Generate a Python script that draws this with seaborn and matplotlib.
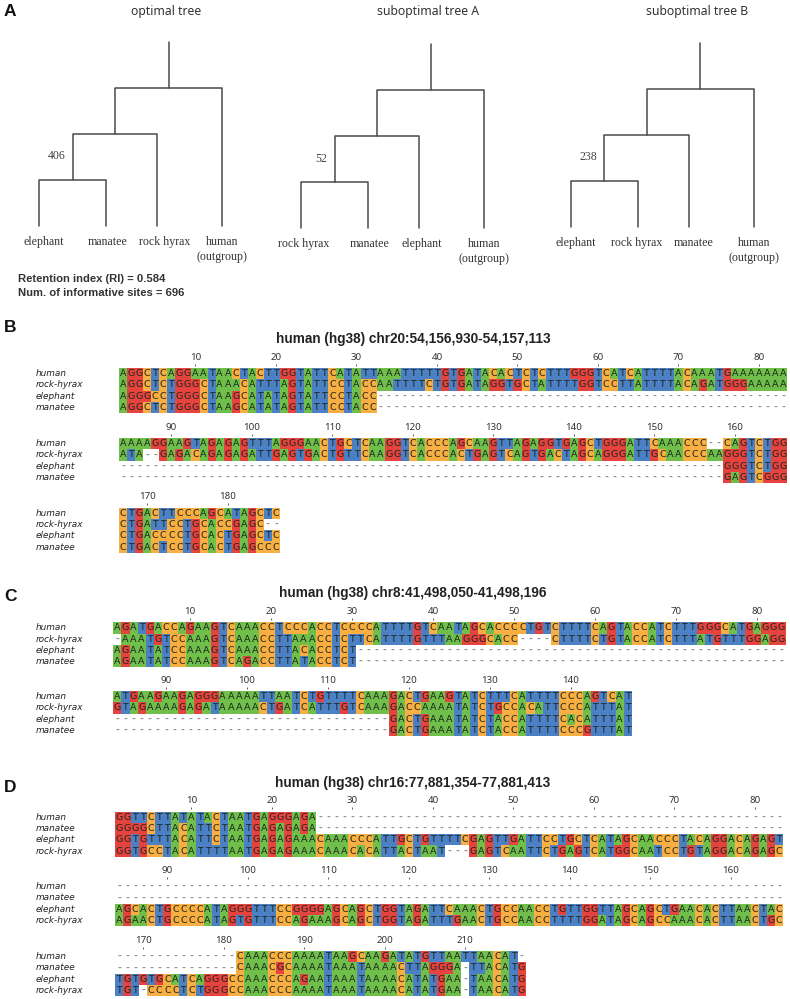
import matplotlib
matplotlib.use("Agg")
import matplotlib.pyplot as plt
from matplotlib.colors import ListedColormap
import numpy as np
import pandas as pd
import seaborn as sns

W, H = 790, 999

# tree data
tree_titles = ["optimal tree", "suboptimal tree A", "suboptimal tree B"]
tree_leaves = [
    ["elephant", "manatee", "rock hyrax", "human\n(outgroup)"],
    ["rock hyrax", "manatee", "elephant", "human\n(outgroup)"],
    ["elephant", "rock hyrax", "manatee", "human\n(outgroup)"],
]
tree_support = [406, 52, 238]
leaf_slots = [0, 1, 1.76, 2.72]
node_heights = [1, 2, 3, 4]
info_lines = ["Retention index (RI) = 0.584", "Num. of informative sites = 696"]

# alignments, one list per wrapped block
names_b = ["human", "rock-hyrax", "elephant", "manatee"]
names_c = ["human", "rock-hyrax", "elephant", "manatee"]
names_d = ["human", "manatee", "elephant", "rock-hyrax"]

title_b = "human (hg38) chr20:54,156,930-54,157,113"
title_c = "human (hg38) chr8:41,498,050-41,498,196"
title_d = "human (hg38) chr16:77,881,354-77,881,413"

b1 = [
    "AGGCTCAGGAATAACTACTTGGTATTCATATTAAATTTTTGTGATACACTCTCTTTGGGTCATCATTTTACAAATGAAAAAAA",
    "AGGCTCTGGGCTAAACATTTAGTATTCCTACCAATTTTCTGTGATAGGTGCTATTTTGGTCCTTATTTTACAGATGGGAAAAA",
    "AGGGCCTGGGCTAAGCATATAGTATTCCTACC" + "-" * 51,
    "AGGCTCTGGGCTAAGCATATAGTATTCCTACC" + "-" * 51,
]
b2 = [
    "AAAAGGAAGTAGAGAGTTTAGGGAACTGCTCAAGGTCACCCAGCAAGTTAGAGGTGAGCTGGGATTCAAACCC--CAGTCTGG",
    "ATA--GAGACAGAGAGATTGAGTGACTGTTCAAGGTCACCCACTGAGTCAGTGACTAGCAGGGATTGCAACCCAAGGGTCTGG",
    "-" * 75 + "GGGTCTGG",
    "-" * 75 + "GAGTCGGG",
]
b3 = [
    "CTGACTTCCCAGCATAGCTC",
    "CTGATTCCTGCACCGAGC--",
    "CTGACCCCTGCACTGAGCTC",
    "CTGACTCCTGCACTGAGCCC",
]
c1 = [
    "AGATGACCAGAAGTCAAACCTCCCACCTCCCCATTTTGTCAATAGCACCCCTGTCTTTTCAGTACCATCTTTGGGCATGAGGG",
    "-AAATGTCCAAAGTCAAACCTTAAACCTCTTCATTTTGTTTAAGGGCACC----CTTTTCTGTACCATCTTTATGTTTGGAGG",
    "AGAATATCCAAAGTCAAACCTTACACCTCT" + "-" * 53,
    "AGAATATCCAAAGTCAGACCTTATACCTCT" + "-" * 53,
]
c2 = [
    "ATGAAGAAGAGGGAAAAATTAATCTGTTTTCAAAGACTGAAGTATCTTTCATTTTCCCAGTCAT",
    "GTAGAAAAGAGATAAAAACTGATCATTTGTCAAAGACCAAAATATCTGCCACATTCCCATTTAT",
    "-" * 34 + "GACTGAAATATCTACCATTTTCACATTTAT",
    "-" * 34 + "GACTGAAATATCTACCATTTTCCCGTTTAT",
]
d1 = [
    "GGTTCTTATATACTAATGAGGGAGA" + "-" * 58,
    "GGGGCTTACATTCTAATGAGAGAGA" + "-" * 58,
    "GGTGTTTACATTCTAATGAGAGAAACAAACCCATTGCTGTTTTCGAGTTGATTCCTGCTCATAGCAACCCTACAGGACAGAGT",
    "GGTGCCTACATTTTAATGAGAGAAACAAACACATTACTAAT---GAGTCAATTCTGAGTCATGGCAATCCTGTAGGACAGAGC",
]
d2 = [
    "-" * 83,
    "-" * 83,
    "AGCACTGCCCCATAGGGTTTCCGGGGAGCAGCTGGTAGATTCAAACTGCCAACCTGTTGGTTAGCAGCTGAACACTTAACTAC",
    "AGAACTGCCCCATAGTGTTTCCAGAAAGCAGCTGGTAGATTTGAACTGCCAACCTTTTGGATAGCAGCCAAACACTTAACTGC",
]
d3 = [
    "-" * 15 + "CAAACCCAAAATAAGCAAGATATGTTAATTAACAT-",
    "-" * 15 + "CAAACGCAAAATAAATAAAACTTAGGGA-TTACATG",
    "TGTGTGCATCAGGGCCAAACCCAGAATAAATAAAACATATGAA-TAACATG",
    "TGT-CCCCTCTGGGCCAAACCCAAAATAAATAAAACATATGAA-TAACATG",
]

base_code = {"A": 0, "C": 1, "G": 2, "T": 3, "-": 4}
base_cmap = ListedColormap(["#70bf4b", "#f8ae40", "#e6433f", "#4c80c5", "#ffffff"])

sns.set_theme(style="white")
fig = plt.figure(figsize=(W / 100, H / 100), dpi=100)


def px_axes(x, y, w, h):
    return fig.add_axes([x / W, 1 - (y + h) / H, w / W, h / H])


def px_text(x, y, s, **kw):
    kw.setdefault("ha", "center")
    kw.setdefault("va", "center")
    fig.text(x / W, 1 - y / H, s, **kw)


def draw_tree(x0, top, bottom, leaves, slots, heights):
    # ladder tree: two first leaves join, then each next leaf joins the clade
    unit = 67.3
    ax = px_axes(x0, top, slots[-1] * unit, bottom - top)
    rows = []
    seg = 0
    nx, ny = slots[0], 0
    for i in range(1, len(leaves)):
        h = heights[i - 1]
        for px, py in [(nx, ny), (nx, h), (slots[i], h), (slots[i], 0)]:
            rows.append({"x": px, "y": py, "seg": seg})
        seg += 1
        nx, ny = (nx + slots[i]) / 2, h
    for py in [ny, heights[-1]]:
        rows.append({"x": nx, "y": py, "seg": seg})
    sns.lineplot(data=pd.DataFrame(rows), x="x", y="y", units="seg", estimator=None,
                 sort=False, color="#4a4a4a", linewidth=1.1, legend=False, ax=ax)
    ax.set_xlim(slots[0], slots[-1])
    ax.set_ylim(0, heights[-1])
    ax.axis("off")
    for line in ax.lines:
        line.set_clip_on(False)


def draw_block(x, y, cell, seqs, names, first):
    n = len(seqs[0])
    ax = px_axes(x, y, n * cell, 45)
    letters = np.array([list(s) for s in seqs])
    codes = np.vectorize(base_code.get)(letters)
    sns.heatmap(codes, annot=letters, fmt="", cmap=base_cmap, vmin=-0.5, vmax=4.5, cbar=False,
                xticklabels=False, yticklabels=names, ax=ax,
                annot_kws={"fontsize": 6.8, "color": "#1c261d", "family": "DejaVu Sans"})
    for t in ax.texts:
        if t.get_text() == "-":
            t.set_color("#8f8f8f")
            t.set_fontweight("bold")
    ax.spines["top"].set_position(("outward", 1.6))
    ax.xaxis.tick_top()
    pos = [i + 0.5 for i in range(n) if (first + i) % 10 == 0]
    ax.set_xticks(pos)
    ax.set_xticklabels([str(first + i) for i in range(n) if (first + i) % 10 == 0],
                       family="Noto Sans", fontsize=7, color="#333333")
    ax.tick_params(axis="x", top=True, bottom=False, length=1.8, width=0.6, color="#444444", pad=1.2)
    ax.set_yticks(np.arange(len(names)) + 0.5)
    ax.set_yticklabels(names, family="DejaVu Sans", style="italic", fontsize=6.4,
                       color="#222222", rotation=0, ha="left")
    ax.tick_params(axis="y", left=False, length=0, pad=(x - 35.5) * 0.72)
    return ax


# panel A
tree_x = [39, 301, 570.7]
tree_top = [42, 44, 42.7]
tree_bottom = [225.7, 227.7, 226.7]
title_x = [165.7, 428, 697]
label_x = [[43.5, 107.7, 165, 222], [304, 369.7, 421.7, 484.3], [575.3, 637, 694, 753.7]]
label_y = [242, 244, 243]
support_xy = [(56.7, 156), (321, 159), (588, 157.5)]

for i in range(3):
    px_text(title_x[i], 11, tree_titles[i], family="Noto Sans", fontsize=8.8, color="#333333")
    draw_tree(tree_x[i], tree_top[i], tree_bottom[i], tree_leaves[i], leaf_slots, node_heights)
    for lx, leaf in zip(label_x[i], tree_leaves[i]):
        for k, part in enumerate(leaf.split("\n")):
            px_text(lx, label_y[i] + k * 15, part, family="Liberation Serif", fontsize=8.6, color="#333333")
    px_text(support_xy[i][0], support_xy[i][1], str(tree_support[i]), family="Liberation Serif",
            fontsize=8.6, color="#444444")

for line, ly in zip(info_lines, [279, 293]):
    px_text(17.5, ly, line, ha="left", family="Liberation Sans", fontweight="bold", fontsize=8.15, color="#333333")

# panel letters
for letter, ly in zip("ABCD", [11, 327, 596.5, 787]):
    px_text(4, ly, letter, ha="left", family="Liberation Sans", fontweight="bold", fontsize=12.5, color="#111111")

# panel B-D alignments
px_text(413, 339, title_b, family="Liberation Sans", fontweight="bold", fontsize=9.85, color="#222222")
draw_block(119, 368, 8.05, b1, names_b, 1)
draw_block(119, 438, 8.05, b2, names_b, 84)
draw_block(119, 507.7, 8.05, b3, names_b, 167)

px_text(412.5, 593.5, title_c, family="Liberation Sans", fontweight="bold", fontsize=9.85, color="#222222")
draw_block(113.3, 622.3, 8.1, c1, names_c, 1)
draw_block(113.3, 691, 8.1, c2, names_c, 84)

px_text(413, 782.5, title_d, family="Liberation Sans", fontweight="bold", fontsize=9.85, color="#222222")
draw_block(115, 811.7, 8.05, d1, names_d, 1)
draw_block(115, 881, 8.05, d2, names_d, 84)
draw_block(115, 951, 8.05, d3, names_d, 167)

fig.savefig("out.png", dpi=100)
plt.close(fig)
